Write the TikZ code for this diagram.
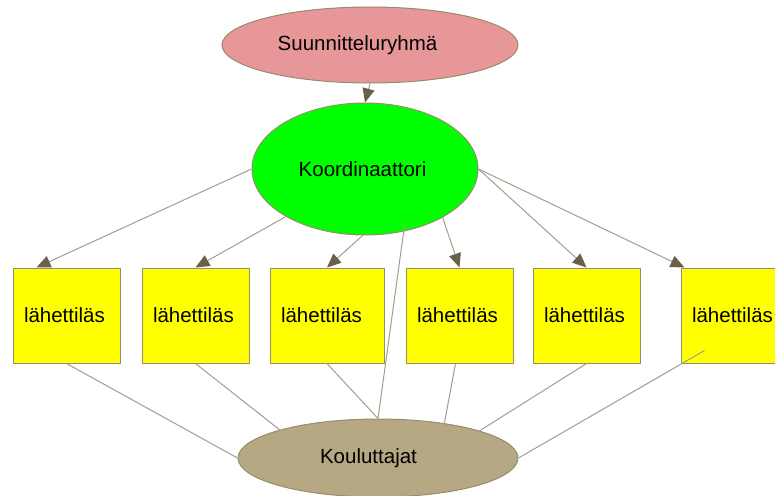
\documentclass[tikz,border=0pt]{standalone}
\usepackage{fontspec}
\setmainfont{Liberation Sans}
\usetikzlibrary{shapes.geometric, arrows.meta}

\definecolor{suunpink}{RGB}{231,151,151}
\definecolor{koordgreen}{RGB}{0,255,0}
\definecolor{envoyyellow}{RGB}{255,255,0}
\definecolor{koultan}{RGB}{181,168,131}
\definecolor{edgecol}{RGB}{150,140,110}
\definecolor{linecol}{RGB}{165,157,140}
\definecolor{tipcol}{RGB}{105,95,75}

\begin{document}
\begin{tikzpicture}[
    x=1pt, y=-1pt,
    >={Triangle[length=14pt, width=12pt, color=tipcol]},
    font=\fontsize{20.5}{24}\selectfont,
    oval/.style={draw=edgecol, ellipse, line width=1pt, inner sep=0pt},
    envoy/.style={draw=edgecol, rectangle, fill=envoyyellow, line width=1pt, minimum height=95pt, text width=85pt, inner xsep=11pt, align=left},
    link/.style={draw=linecol, line width=1pt}
]
    \useasboundingbox (0,0) rectangle (775,495);
    \clip (0,0) rectangle (775,495);

    \node[oval, fill=suunpink, minimum width=296pt, minimum height=76pt] (suun) at (370,45) {Suunnitteluryhmä\hspace*{25pt}};
    \node[oval, fill=koordgreen, minimum width=226pt, minimum height=132pt] (koord) at (365,169) {Koordinaattori\hspace*{5pt}};

    \node[envoy] (b1) at (66.5,315.5) {lähettiläs};
    \node[envoy] (b2) at (195.5,315.5) {lähettiläs};
    \node[envoy, text width=92pt] (b3) at (327,315.5) {lähettiläs};
    \node[envoy] (b4) at (459.5,315.5) {lähettiläs};
    \node[envoy] (b5) at (586.5,315.5) {lähettiläs};
    \node[envoy, text width=86pt] (b6) at (735,315.5) {lähettiläs};

    \node[oval, fill=koultan, minimum width=280pt, minimum height=78pt] (koul) at (378,458) {Kouluttajat\hspace*{19pt}};

    \draw[->, link] (suun.south) -- (koord.north);

    % koordinaattori to the envoys
    \draw[->, link] (koord.west) -- ([xshift=24pt]b1.north west);
    \draw[->, link] (koord.211) -- (b2.north);
    \draw[->, link] (koord.268) -- (b3.north);
    \draw[->, link] (koord.328) -- (b4.north);
    \draw[->, link] (koord.east) -- (b5.north);
    \draw[->, link] (koord.east) -- ([xshift=4pt]b6.north west);

    % envoys to kouluttajat
    \draw[link] (b1.south) -- (koul.west);
    \draw[link] (b2.south) -- (koul.164);
    \draw[link] (b3.south) -- (koul.north);
    \draw[link] ([xshift=40pt, yshift=-53pt]koord.center) -- (koul.north);
    \draw[link] ([xshift=-4pt]b4.south) -- ([yshift=-4pt]koul.28);
    \draw[link] (b5.south) -- (koul.15);
    \draw[link] ([xshift=24pt, yshift=13pt]b6.south west) -- (koul.east);

\end{tikzpicture}
\end{document}
